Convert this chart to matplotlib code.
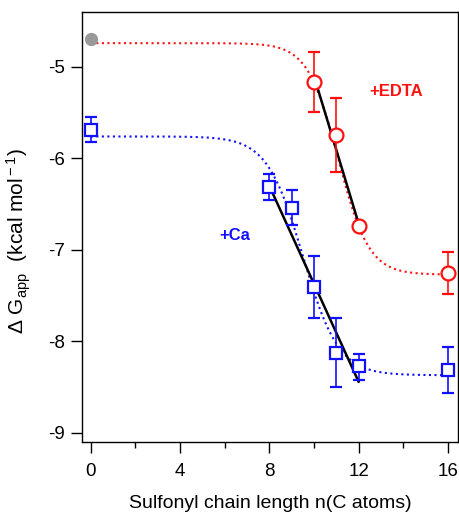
import numpy as np
import matplotlib
matplotlib.use("Agg")
import matplotlib.pyplot as plt
from matplotlib.ticker import MultipleLocator

plt.rcParams['font.family'] = ['Liberation Sans', 'DejaVu Sans']
plt.rcParams['mathtext.fontset'] = 'custom'
plt.rcParams['mathtext.rm'] = 'Liberation Sans'
plt.rcParams['mathtext.it'] = 'Liberation Sans:italic'
plt.rcParams['axes.unicode_minus'] = False

# +EDTA (red circles)
edta_n = [10, 11, 12, 16]
edta_g = [-5.16, -5.745, -6.74, -7.25]
edta_err_lo = [0.33, 0.40, 0.0, 0.23]
edta_err_hi = [0.32, 0.40, 0.0, 0.23]

# reference point at n = 0 (grey)
ref_n = [0]
ref_g = [-4.70]

# +Ca (blue squares)
ca_n = [0, 8, 9, 10, 11, 12, 16]
ca_g = [-5.69, -6.31, -6.54, -7.41, -8.13, -8.27, -8.31]
ca_err_lo = [0.13, 0.15, 0.19, 0.33, 0.37, 0.15, 0.25]
ca_err_hi = [0.145, 0.14, 0.195, 0.34, 0.39, 0.13, 0.25]

# sigmoid fits: top, bottom, midpoint, width
edta_fit = (-4.74, -7.27, 11.09, 0.685)
ca_fit = (-5.76, -8.37, 9.5, 0.8)

# linear fits (end points)
edta_line_n = [10, 12]
edta_line_g = [-5.10, -6.71]
ca_line_n = [8, 12]
ca_line_g = [-6.30, -8.44]

red = '#ff1111'
blue = '#1111ff'


def sigmoid(x, p):
    top, bot, x0, w = p
    return bot + (top - bot) / (1 + np.exp((x - x0) / w))


fig = plt.figure(figsize=(4.6, 5.12), dpi=100)
ax = fig.add_axes([0.178, 0.1367, 0.8174, 0.8398])

xs = np.linspace(0, 16, 400)
ax.plot(xs, sigmoid(xs, edta_fit), ':', color=red, lw=1.5, zorder=2)
ax.plot(xs, sigmoid(xs, ca_fit), ':', color=blue, lw=1.5, zorder=2)

ax.plot(edta_line_n, edta_line_g, '-', color='black', lw=1.8, zorder=3)
ax.plot(ca_line_n, ca_line_g, '-', color='black', lw=1.8, zorder=3)

ax.errorbar(edta_n, edta_g, yerr=[edta_err_lo, edta_err_hi], fmt='o', ms=10,
            mfc='white', mec=red, mew=1.6, ecolor=red, elinewidth=1.2,
            capsize=4, capthick=1.2, zorder=4)
ax.errorbar(ca_n, ca_g, yerr=[ca_err_lo, ca_err_hi], fmt='s', ms=8.5,
            mfc='white', mec=blue, mew=1.6, ecolor=blue, elinewidth=1.2,
            capsize=4, capthick=1.2, zorder=4)
ax.plot(ref_n, ref_g, 'o', ms=8.5, color='#999999', zorder=5)

ax.text(13.69, -5.27, '+EDTA', color=red, fontsize=12, fontweight='bold',
        ha='center', va='center')
ax.text(6.46, -6.84, '+Ca', color=blue, fontsize=12, fontweight='bold',
        ha='center', va='center')

ax.set_xlim(-0.4, 16.45)
ax.set_ylim(-9.1, -4.4)
ax.xaxis.set_major_locator(MultipleLocator(4))
ax.xaxis.set_minor_locator(MultipleLocator(2))
ax.set_yticks([-9, -8, -7, -6, -5])
ax.tick_params(axis='both', which='major', direction='out', length=8, width=1,
               labelsize=13.5)
ax.tick_params(axis='x', which='major', pad=7)
ax.tick_params(axis='y', which='major', pad=4)
ax.tick_params(axis='x', which='minor', direction='out', length=4, width=1)
for s in ax.spines.values():
    s.set_linewidth(1.0)

ax.set_xlabel('Sulfonyl chain length n(C atoms)', fontsize=14, labelpad=11)
ax.set_ylabel(r'$\Delta$ G$_{\rm app}$  (kcal mol$^{\rm -1}$)', fontsize=15)
ax.yaxis.set_label_coords(-0.13, 0.467)

fig.savefig('out.png', dpi=100)
